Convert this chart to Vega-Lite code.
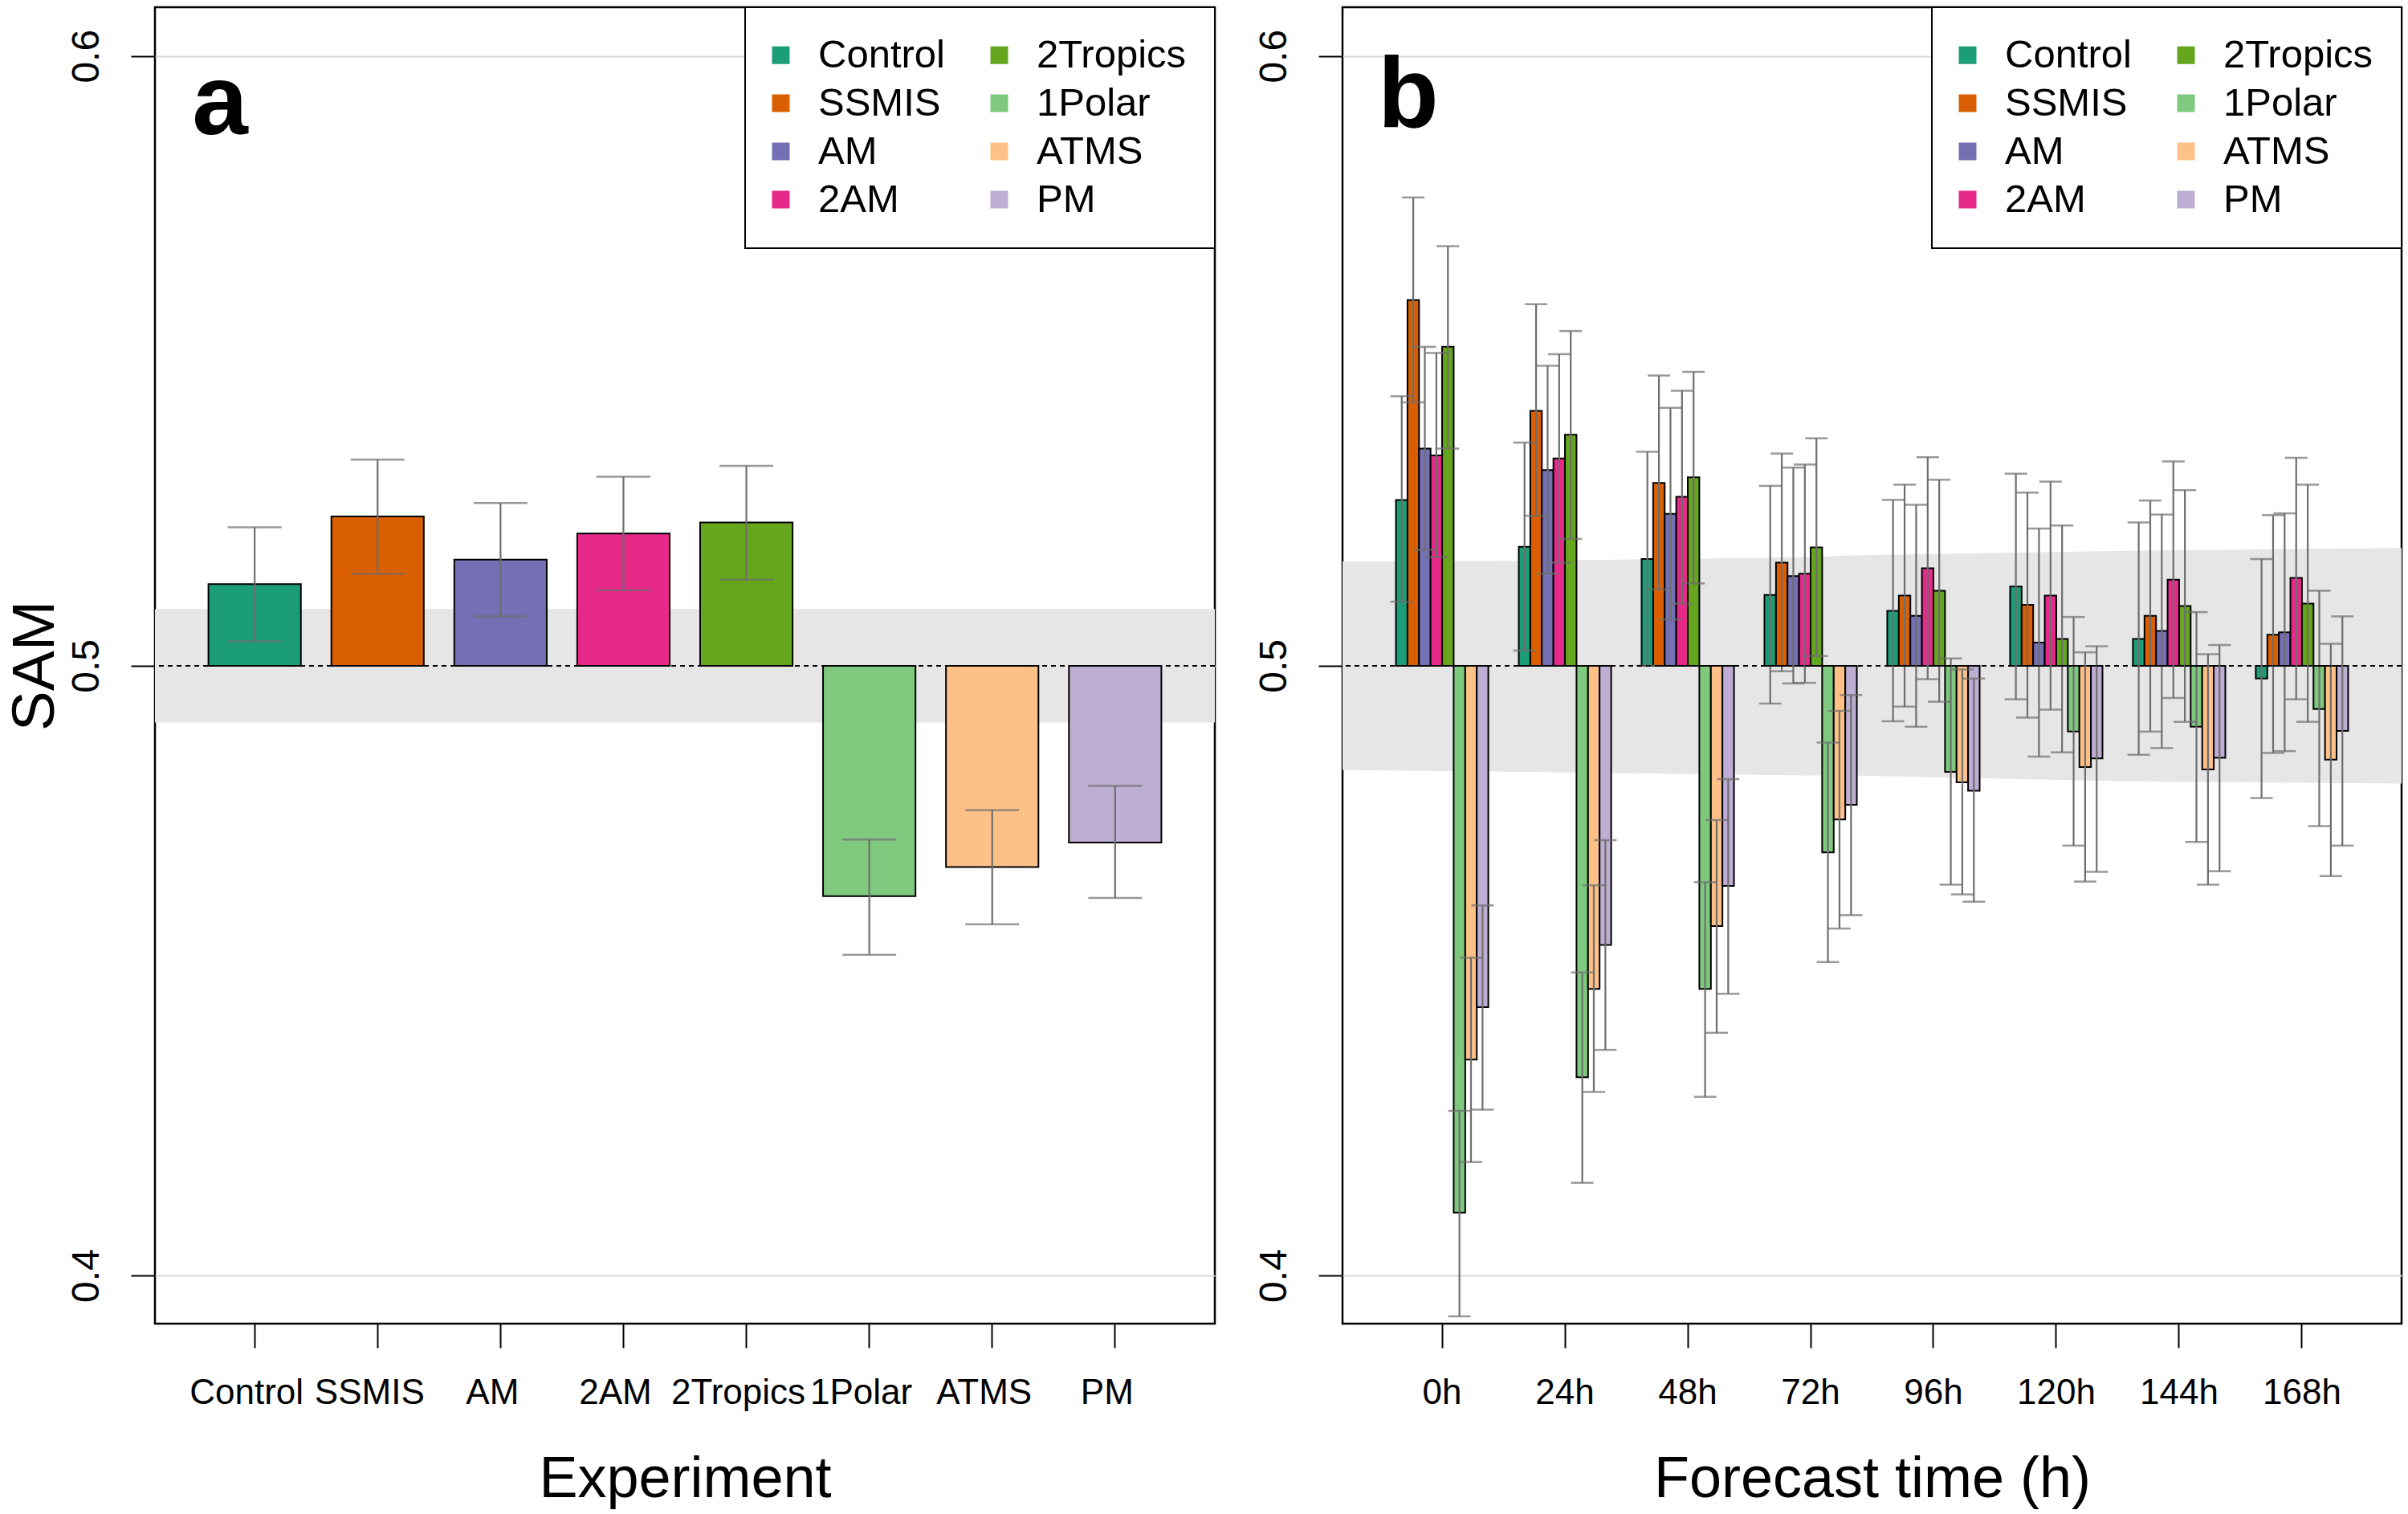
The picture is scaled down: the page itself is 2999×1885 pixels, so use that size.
{
  "$schema": "https://vega.github.io/schema/vega-lite/v6.json",
  "padding": {"left": 4, "top": 6, "right": 0, "bottom": 0},
  "background": "white",
  "config": {
    "font": "Liberation Sans",
    "view": {"stroke": "black", "strokeWidth": 2.5},
    "axis": {
      "domain": false,
      "tickColor": "black",
      "tickWidth": 2,
      "tickSize": 30,
      "labelColor": "black",
      "titleColor": "black",
      "titleFontWeight": "normal",
      "labelFont": "Liberation Sans",
      "titleFont": "Liberation Sans"
    },
    "legend": {
      "orient": "top-right",
      "offset": 0,
      "columns": 2,
      "strokeColor": "black",
      "strokeWidth": 2,
      "fillColor": "white",
      "padding": 35,
      "columnPadding": 56,
      "rowPadding": 10,
      "symbolType": "square",
      "symbolSize": 484,
      "symbolStrokeWidth": 0,
      "symbolOpacity": 1,
      "symbolOffset": -15,
      "labelFontSize": 49,
      "labelFont": "Liberation Sans",
      "labelColor": "black",
      "labelOffset": 22,
      "labelLimit": 400
    }
  },
  "datasets": {
    "overall": [
      {"exp": "Control", "v": 0.5134, "lo": 0.5040, "hi": 0.5227},
      {"exp": "SSMIS", "v": 0.5245, "lo": 0.5151, "hi": 0.5338},
      {"exp": "AM", "v": 0.5174, "lo": 0.5081, "hi": 0.5267},
      {"exp": "2AM", "v": 0.5217, "lo": 0.5124, "hi": 0.5310},
      {"exp": "2Tropics", "v": 0.5235, "lo": 0.5141, "hi": 0.5328},
      {"exp": "1Polar", "v": 0.4622, "lo": 0.4526, "hi": 0.4715},
      {"exp": "ATMS", "v": 0.4670, "lo": 0.4576, "hi": 0.4763},
      {"exp": "PM", "v": 0.4710, "lo": 0.4619, "hi": 0.4803}
    ],
    "bandA": [{"lo": 0.4907, "hi": 0.5093}],
    "bandB": [
      {"f": 0.0, "lo": 0.4829, "hi": 0.5171},
      {"f": 0.17, "lo": 0.4826, "hi": 0.5172},
      {"f": 0.44, "lo": 0.4820, "hi": 0.5178},
      {"f": 0.48, "lo": 0.4820, "hi": 0.5181},
      {"f": 0.75, "lo": 0.4810, "hi": 0.5189},
      {"f": 1.0, "lo": 0.4807, "hi": 0.5193}
    ],
    "panelA": [{"label": "a", "exp": "Control", "y": 0.5872}],
    "panelB": [{"label": "b", "time": "0h", "y": 0.5884}],
    "lead": [
      {"time": "0h", "exp": "Control", "v": 0.5272, "lo": 0.5105, "hi": 0.5442},
      {"time": "0h", "exp": "SSMIS", "v": 0.5600, "lo": 0.5432, "hi": 0.5768},
      {"time": "0h", "exp": "AM", "v": 0.5356, "lo": 0.5190, "hi": 0.5523},
      {"time": "0h", "exp": "2AM", "v": 0.5345, "lo": 0.5178, "hi": 0.5513},
      {"time": "0h", "exp": "2Tropics", "v": 0.5523, "lo": 0.5356, "hi": 0.5688},
      {"time": "0h", "exp": "1Polar", "v": 0.4103, "lo": 0.3933, "hi": 0.4270},
      {"time": "0h", "exp": "ATMS", "v": 0.4354, "lo": 0.4186, "hi": 0.4521},
      {"time": "0h", "exp": "PM", "v": 0.4440, "lo": 0.4272, "hi": 0.4607},
      {"time": "24h", "exp": "Control", "v": 0.5195, "lo": 0.5025, "hi": 0.5366},
      {"time": "24h", "exp": "SSMIS", "v": 0.5418, "lo": 0.5246, "hi": 0.5593},
      {"time": "24h", "exp": "AM", "v": 0.5321, "lo": 0.5151, "hi": 0.5492},
      {"time": "24h", "exp": "2AM", "v": 0.5340, "lo": 0.5169, "hi": 0.5511},
      {"time": "24h", "exp": "2Tropics", "v": 0.5379, "lo": 0.5208, "hi": 0.5549},
      {"time": "24h", "exp": "1Polar", "v": 0.4325, "lo": 0.4152, "hi": 0.4497},
      {"time": "24h", "exp": "ATMS", "v": 0.4470, "lo": 0.4301, "hi": 0.4640},
      {"time": "24h", "exp": "PM", "v": 0.4542, "lo": 0.4370, "hi": 0.4714},
      {"time": "48h", "exp": "Control", "v": 0.5175, "lo": 0.5000, "hi": 0.5351},
      {"time": "48h", "exp": "SSMIS", "v": 0.5300, "lo": 0.5125, "hi": 0.5476},
      {"time": "48h", "exp": "AM", "v": 0.5249, "lo": 0.5076, "hi": 0.5423},
      {"time": "48h", "exp": "2AM", "v": 0.5277, "lo": 0.5102, "hi": 0.5451},
      {"time": "48h", "exp": "2Tropics", "v": 0.5309, "lo": 0.5135, "hi": 0.5482},
      {"time": "48h", "exp": "1Polar", "v": 0.4470, "lo": 0.4293, "hi": 0.4645},
      {"time": "48h", "exp": "ATMS", "v": 0.4573, "lo": 0.4398, "hi": 0.4747},
      {"time": "48h", "exp": "PM", "v": 0.4639, "lo": 0.4462, "hi": 0.4814},
      {"time": "72h", "exp": "Control", "v": 0.5116, "lo": 0.4938, "hi": 0.5295},
      {"time": "72h", "exp": "SSMIS", "v": 0.5169, "lo": 0.4991, "hi": 0.5348},
      {"time": "72h", "exp": "AM", "v": 0.5147, "lo": 0.4971, "hi": 0.5325},
      {"time": "72h", "exp": "2AM", "v": 0.5151, "lo": 0.4972, "hi": 0.5330},
      {"time": "72h", "exp": "2Tropics", "v": 0.5194, "lo": 0.5016, "hi": 0.5373},
      {"time": "72h", "exp": "1Polar", "v": 0.4694, "lo": 0.4514, "hi": 0.4874},
      {"time": "72h", "exp": "ATMS", "v": 0.4748, "lo": 0.4569, "hi": 0.4926},
      {"time": "72h", "exp": "PM", "v": 0.4772, "lo": 0.4591, "hi": 0.4952},
      {"time": "96h", "exp": "Control", "v": 0.5090, "lo": 0.4909, "hi": 0.5272},
      {"time": "96h", "exp": "SSMIS", "v": 0.5115, "lo": 0.4933, "hi": 0.5297},
      {"time": "96h", "exp": "AM", "v": 0.5082, "lo": 0.4900, "hi": 0.5264},
      {"time": "96h", "exp": "2AM", "v": 0.5160, "lo": 0.4978, "hi": 0.5342},
      {"time": "96h", "exp": "2Tropics", "v": 0.5123, "lo": 0.4941, "hi": 0.5305},
      {"time": "96h", "exp": "1Polar", "v": 0.4826, "lo": 0.4641, "hi": 0.5012},
      {"time": "96h", "exp": "ATMS", "v": 0.4809, "lo": 0.4625, "hi": 0.4994},
      {"time": "96h", "exp": "PM", "v": 0.4795, "lo": 0.4613, "hi": 0.4979},
      {"time": "120h", "exp": "Control", "v": 0.5130, "lo": 0.4945, "hi": 0.5315},
      {"time": "120h", "exp": "SSMIS", "v": 0.5100, "lo": 0.4915, "hi": 0.5284},
      {"time": "120h", "exp": "AM", "v": 0.5038, "lo": 0.4851, "hi": 0.5225},
      {"time": "120h", "exp": "2AM", "v": 0.5115, "lo": 0.4928, "hi": 0.5302},
      {"time": "120h", "exp": "2Tropics", "v": 0.5044, "lo": 0.4858, "hi": 0.5230},
      {"time": "120h", "exp": "1Polar", "v": 0.4892, "lo": 0.4705, "hi": 0.5080},
      {"time": "120h", "exp": "ATMS", "v": 0.4834, "lo": 0.4646, "hi": 0.5022},
      {"time": "120h", "exp": "PM", "v": 0.4848, "lo": 0.4662, "hi": 0.5032},
      {"time": "144h", "exp": "Control", "v": 0.5044, "lo": 0.4854, "hi": 0.5235},
      {"time": "144h", "exp": "SSMIS", "v": 0.5082, "lo": 0.4892, "hi": 0.5271},
      {"time": "144h", "exp": "AM", "v": 0.5057, "lo": 0.4865, "hi": 0.5248},
      {"time": "144h", "exp": "2AM", "v": 0.5141, "lo": 0.4947, "hi": 0.5335},
      {"time": "144h", "exp": "2Tropics", "v": 0.5098, "lo": 0.4908, "hi": 0.5288},
      {"time": "144h", "exp": "1Polar", "v": 0.4900, "lo": 0.4711, "hi": 0.5088},
      {"time": "144h", "exp": "ATMS", "v": 0.4830, "lo": 0.4641, "hi": 0.5019},
      {"time": "144h", "exp": "PM", "v": 0.4849, "lo": 0.4663, "hi": 0.5034},
      {"time": "168h", "exp": "Control", "v": 0.4979, "lo": 0.4783, "hi": 0.5175},
      {"time": "168h", "exp": "SSMIS", "v": 0.5051, "lo": 0.4857, "hi": 0.5247},
      {"time": "168h", "exp": "AM", "v": 0.5055, "lo": 0.4860, "hi": 0.5250},
      {"time": "168h", "exp": "2AM", "v": 0.5144, "lo": 0.4945, "hi": 0.5341},
      {"time": "168h", "exp": "2Tropics", "v": 0.5102, "lo": 0.4908, "hi": 0.5297},
      {"time": "168h", "exp": "1Polar", "v": 0.4929, "lo": 0.4737, "hi": 0.5123},
      {"time": "168h", "exp": "ATMS", "v": 0.4846, "lo": 0.4655, "hi": 0.5036},
      {"time": "168h", "exp": "PM", "v": 0.4893, "lo": 0.4705, "hi": 0.5081}
    ]
  },
  "hconcat": [
    {
      "width": 1320,
      "height": 1639,
      "layer": [
        {
          "data": {"name": "bandA"},
          "mark": {"type": "rect", "color": "#e6e6e6"},
          "encoding": {
            "y": {"field": "lo", "type": "quantitative", "scale": {"domain": [0.3921, 0.608], "nice": false, "zero": false},
              "axis": {"values": [0.4, 0.5, 0.6], "format": ".1f", "grid": true, "gridColor": "#d9d9d9", "gridWidth": 2, "labelAngle": -90, "labelAlign": "center", "labelBaseline": "alphabetic", "labelFontSize": 48, "labelPadding": 41, "title": "SAM", "titleFontSize": 75, "titlePadding": 2}},
            "y2": {"field": "hi"}
          }
        },
        {
          "data": {"name": "overall"},
          "mark": {"type": "bar", "stroke": "black", "strokeWidth": 2},
          "encoding": {
            "x": {"field": "exp", "type": "nominal", "sort": ["Control", "SSMIS", "AM", "2AM", "2Tropics", "1Polar", "ATMS", "PM"],
              "scale": {"paddingInner": 0.248, "paddingOuter": 0.435},
              "axis": {"labelAngle": 0, "labelFontSize": 44, "labelPadding": 34, "labelOffset": -10, "title": "Experiment", "titleFontSize": 72, "titlePadding": 50}},
            "y": {"field": "v", "type": "quantitative"},
            "y2": {"datum": 0.5},
            "color": {"field": "exp", "type": "nominal",
              "scale": {"domain": ["Control", "SSMIS", "AM", "2AM", "2Tropics", "1Polar", "ATMS", "PM"],
                "range": ["#1b9e77", "#d95f02", "#7570b3", "#e7298a", "#66a61e", "#7fc97f", "#fdc086", "#beaed4"]},
              "legend": {"title": null}}
          }
        },
        {
          "data": {"name": "overall"},
          "mark": {"type": "rule", "color": "#6e6e6e", "strokeWidth": 2.2},
          "encoding": {
            "x": {"field": "exp", "type": "nominal", "sort": ["Control", "SSMIS", "AM", "2AM", "2Tropics", "1Polar", "ATMS", "PM"]},
            "y": {"field": "lo", "type": "quantitative"},
            "y2": {"field": "hi"}
          }
        },
        {
          "data": {"name": "overall"},
          "mark": {"type": "tick", "color": "#6e6e6e", "size": 67, "thickness": 2.5},
          "encoding": {
            "x": {"field": "exp", "type": "nominal", "sort": ["Control", "SSMIS", "AM", "2AM", "2Tropics", "1Polar", "ATMS", "PM"]},
            "y": {"field": "lo", "type": "quantitative"}
          }
        },
        {
          "data": {"name": "overall"},
          "mark": {"type": "tick", "color": "#6e6e6e", "size": 67, "thickness": 2.5},
          "encoding": {
            "x": {"field": "exp", "type": "nominal", "sort": ["Control", "SSMIS", "AM", "2AM", "2Tropics", "1Polar", "ATMS", "PM"]},
            "y": {"field": "hi", "type": "quantitative"}
          }
        },
        {
          "data": {"name": "bandA"},
          "mark": {"type": "rule", "color": "black", "strokeWidth": 2, "strokeDash": [6, 5]},
          "encoding": {"y": {"datum": 0.5}}
        },
        {
          "data": {"name": "panelA"},
          "mark": {"type": "text", "fontSize": 125, "fontWeight": "bold", "align": "left", "baseline": "alphabetic", "color": "black", "dx": -78},
          "encoding": {
            "x": {"field": "exp", "type": "nominal", "sort": ["Control", "SSMIS", "AM", "2AM", "2Tropics", "1Polar", "ATMS", "PM"]},
            "y": {"field": "y", "type": "quantitative"},
            "text": {"field": "label"}
          }
        }
      ]
    },
    {
      "width": 1319,
      "height": 1639,
      "resolve": {"scale": {"x": "independent"}},
      "layer": [
        {
          "data": {"name": "bandB"},
          "mark": {"type": "area", "color": "#e6e6e6", "opacity": 1},
          "encoding": {
            "x": {"field": "f", "type": "quantitative", "scale": {"domain": [0, 1], "nice": false, "zero": false}, "axis": null},
            "y": {"field": "lo", "type": "quantitative", "scale": {"domain": [0.3921, 0.608], "nice": false, "zero": false},
              "axis": {"values": [0.4, 0.5, 0.6], "format": ".1f", "grid": true, "gridColor": "#d9d9d9", "gridWidth": 2, "labelAngle": -90, "labelAlign": "center", "labelBaseline": "alphabetic", "labelFontSize": 48, "labelPadding": 41, "title": null}},
            "y2": {"field": "hi"}
          }
        },
        {
          "layer": [
            {
              "data": {"name": "lead"},
              "mark": {"type": "bar", "stroke": "black", "strokeWidth": 2},
              "encoding": {
                "x": {"field": "time", "type": "nominal", "sort": ["0h", "24h", "48h", "72h", "96h", "120h", "144h", "168h"],
                  "scale": {"paddingInner": 0.248, "paddingOuter": 0.435},
                  "axis": {"labelAngle": 0, "labelFontSize": 44, "labelPadding": 34, "title": "Forecast time (h)", "titleFontSize": 72, "titlePadding": 50}},
                "xOffset": {"field": "exp", "type": "nominal", "sort": ["Control", "SSMIS", "AM", "2AM", "2Tropics", "1Polar", "ATMS", "PM"],
                  "scale": {"paddingInner": 0, "paddingOuter": 0}},
                "y": {"field": "v", "type": "quantitative"},
                "y2": {"datum": 0.5},
                "color": {"field": "exp", "type": "nominal",
                  "scale": {"domain": ["Control", "SSMIS", "AM", "2AM", "2Tropics", "1Polar", "ATMS", "PM"],
                    "range": ["#1b9e77", "#d95f02", "#7570b3", "#e7298a", "#66a61e", "#7fc97f", "#fdc086", "#beaed4"]},
                  "legend": {"title": null}}
              }
            },
            {
              "data": {"name": "lead"},
              "mark": {"type": "rule", "color": "#6e6e6e", "strokeWidth": 2.2},
              "encoding": {
                "x": {"field": "time", "type": "nominal", "sort": ["0h", "24h", "48h", "72h", "96h", "120h", "144h", "168h"]},
                "xOffset": {"field": "exp", "type": "nominal", "sort": ["Control", "SSMIS", "AM", "2AM", "2Tropics", "1Polar", "ATMS", "PM"]},
                "y": {"field": "lo", "type": "quantitative"},
                "y2": {"field": "hi"}
              }
            },
            {
              "data": {"name": "lead"},
              "mark": {"type": "tick", "color": "#6e6e6e", "size": 28, "thickness": 2.5},
              "encoding": {
                "x": {"field": "time", "type": "nominal", "sort": ["0h", "24h", "48h", "72h", "96h", "120h", "144h", "168h"]},
                "xOffset": {"field": "exp", "type": "nominal", "sort": ["Control", "SSMIS", "AM", "2AM", "2Tropics", "1Polar", "ATMS", "PM"]},
                "y": {"field": "lo", "type": "quantitative"}
              }
            },
            {
              "data": {"name": "lead"},
              "mark": {"type": "tick", "color": "#6e6e6e", "size": 28, "thickness": 2.5},
              "encoding": {
                "x": {"field": "time", "type": "nominal", "sort": ["0h", "24h", "48h", "72h", "96h", "120h", "144h", "168h"]},
                "xOffset": {"field": "exp", "type": "nominal", "sort": ["Control", "SSMIS", "AM", "2AM", "2Tropics", "1Polar", "ATMS", "PM"]},
                "y": {"field": "hi", "type": "quantitative"}
              }
            },
            {
              "data": {"name": "bandB"},
              "mark": {"type": "rule", "color": "black", "strokeWidth": 2, "strokeDash": [6, 5]},
              "encoding": {"y": {"datum": 0.5}}
            },
            {
              "data": {"name": "panelB"},
              "mark": {"type": "text", "fontSize": 124, "fontWeight": "bold", "align": "left", "baseline": "alphabetic", "color": "black", "dx": -80},
              "encoding": {
                "x": {"field": "time", "type": "nominal", "sort": ["0h", "24h", "48h", "72h", "96h", "120h", "144h", "168h"]},
                "y": {"field": "y", "type": "quantitative"},
                "text": {"field": "label"}
              }
            }
          ]
        }
      ]
    }
  ],
  "spacing": 159,
  "bounds": "flush",
  "resolve": {"scale": {"color": "independent"}, "legend": {"color": "independent"}}
}
